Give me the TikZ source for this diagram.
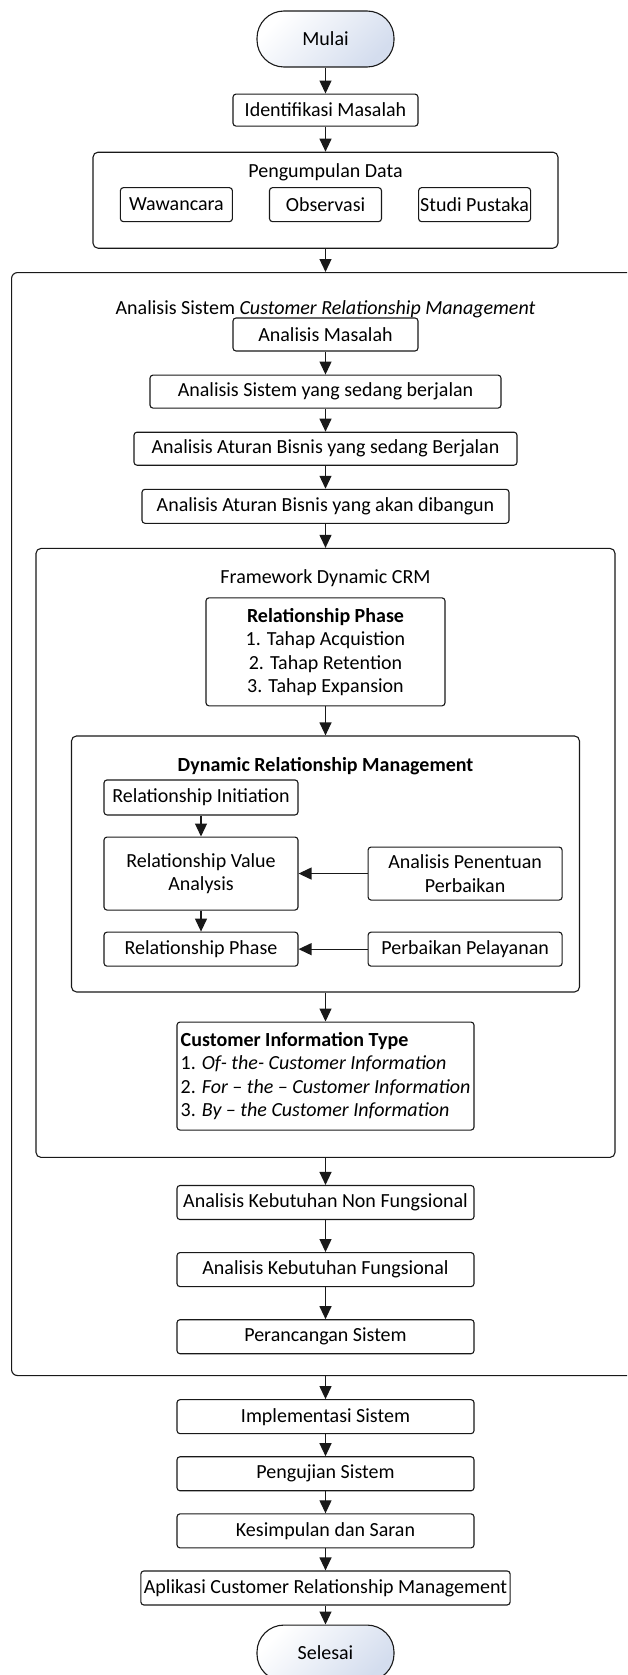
\documentclass[tikz,border=0pt]{standalone}
\usepackage{fontspec}
\setmainfont{Carlito}
\usepackage{tikz}
\usetikzlibrary{arrows.meta, positioning}
\definecolor{termblue}{RGB}{212,221,238}
\definecolor{linegray}{RGB}{25,25,25}

\begin{document}
\begin{tikzpicture}[
    x=1pt, y=-1pt,
    node distance=24pt and 36pt,
    every node/.style={font=\fontsize{20}{23.5}\selectfont},
    term/.style={rectangle, rounded corners=27pt, draw=linegray, line width=1.1pt, top color=white, bottom color=termblue, shading angle=45, minimum width=137pt, minimum height=56pt},
    box/.style={rectangle, rounded corners=3pt, draw=linegray, line width=1.1pt, fill=white, align=center, minimum height=33pt, inner sep=3pt},
    group/.style={rectangle, rounded corners=5pt, draw=linegray, line width=1.1pt},
    grouptitle/.style={inner sep=0pt, align=center},
    arrow/.style={-{Triangle[length=13pt, width=12pt]}, line width=1.2pt, draw=linegray}
]
\useasboundingbox (0,0) rectangle (627,1675);
\clip (0,0) rectangle (627,1675);

% --- start and data collection ---
\node[term] (mulai) at (325.5,39) {Mulai};
\node[box, minimum width=185pt, minimum height=32pt, below=26pt of mulai] (identifikasi) {Identifikasi Masalah};
\node[group, minimum width=465pt, minimum height=96pt, below=25pt of identifikasi] (kumpul) {};
\node[grouptitle, yshift=-21pt] (kumpulT) at (kumpul.north) {Pengumpulan Data};
\node[box, inner xsep=0pt, minimum width=112pt, minimum height=34pt, yshift=-53pt] (observasi) at (kumpul.north) {Observasi};
\node[box, inner xsep=0pt, minimum width=112pt, minimum height=34pt, left=of observasi] (wawancara) {Wawancara};
\node[box, inner xsep=0pt, minimum width=112pt, minimum height=34pt, right=of observasi] (pustaka) {Studi Pustaka};

% --- analisis sistem CRM (outer envelope) ---
\node[group, rounded corners=6pt, minimum width=640pt, minimum height=1103pt, anchor=north west] (analisis) at (11,272) {};
\node[grouptitle, yshift=-37pt] (analisisT) at (mulai |- analisis.north) {Analisis Sistem \textit{Customer Relationship Management}};
\node[box, minimum width=185pt, yshift=-62.5pt] (amasalah) at (mulai |- analisis.north) {Analisis Masalah};
\node[box, minimum width=351pt, below=23pt of amasalah] (asistem) {Analisis Sistem yang sedang berjalan};
\node[box, minimum width=383pt, below=23pt of asistem] (aturan1) {Analisis Aturan Bisnis yang sedang Berjalan};
\node[box, minimum width=367pt, minimum height=34pt, below=23pt of aturan1] (aturan2) {Analisis Aturan Bisnis yang akan dibangun};

% --- framework dynamic CRM ---
\node[group, minimum width=579pt, minimum height=609pt, below=24pt of aturan2] (framework) {};
\node[grouptitle, yshift=-30pt] (frameworkT) at (framework.north) {Framework Dynamic CRM};
\node[box, minimum width=239pt, minimum height=108pt, yshift=-104pt] (rphase) at (framework.north)
    {\textbf{Relationship Phase}\\1. Tahap Acquistion\\2. Tahap Retention\\3. Tahap Expansion};

\node[group, minimum width=508pt, minimum height=256pt, below=29pt of rphase] (drm) {};
\node[grouptitle, yshift=-31pt] (drmT) at (drm.north) {\textbf{Dynamic Relationship Management}};
\node[box, minimum width=194pt, minimum height=35pt, anchor=north west] (rinit) at ([xshift=32.5pt, yshift=-44pt]drm.north west) {Relationship Initiation};
\node[box, minimum width=194pt, minimum height=73pt, below=21pt of rinit] (rvalue) {Relationship Value\\Analysis};
\node[box, minimum width=194pt, minimum height=34pt, below=21pt of rvalue] (rphase2) {Relationship Phase};
\node[box, minimum width=194pt, minimum height=53pt, right=69pt of rvalue] (penentuan) {Analisis Penentuan\\Perbaikan};
\node[box, minimum width=194pt, minimum height=34pt, right=69pt of rphase2] (pelayanan) {Perbaikan Pelayanan};

\node[box, minimum width=297pt, minimum height=108pt, align=left, below=29pt of drm] (citype)
    {\textbf{Customer Information Type}\\1. \textit{Of- the- Customer Information}\\2. \textit{For – the – Customer Information}\\3. \textit{By – the Customer Information}};

% --- kebutuhan & perancangan ---
\node[box, minimum width=297pt, minimum height=34pt, below=27pt of framework] (knon) {Analisis Kebutuhan Non Fungsional};
\node[box, minimum width=297pt, minimum height=34pt, below=32pt of knon] (kfungsi) {Analisis Kebutuhan Fungsional};
\node[box, minimum width=297pt, minimum height=34pt, below=32pt of kfungsi] (rancang) {Perancangan Sistem};

% --- after analysis ---
\node[box, minimum width=297pt, minimum height=34pt, anchor=north, yshift=-23pt] (implementasi) at (mulai |- analisis.south) {Implementasi Sistem};
\node[box, minimum width=297pt, minimum height=34pt, below=22pt of implementasi] (pengujian) {Pengujian Sistem};
\node[box, minimum width=297pt, minimum height=34pt, below=22pt of pengujian] (kesimpulan) {Kesimpulan dan Saran};
\node[box, minimum width=369pt, minimum height=34pt, below=22pt of kesimpulan] (aplikasi) {Aplikasi Customer Relationship Management};
\node[term, below=19pt of aplikasi] (selesai) {Selesai};

% --- connectors ---
\draw[arrow] (mulai) -- (identifikasi);
\draw[arrow] (identifikasi) -- (kumpul);
\draw[arrow] (kumpul.south) -- (kumpul.south |- analisis.north);
\draw[arrow] (amasalah) -- (asistem);
\draw[arrow] (asistem) -- (aturan1);
\draw[arrow] (aturan1) -- (aturan2);
\draw[arrow] (aturan2) -- (framework);
\draw[arrow] (rphase) -- (drm);
\draw[arrow] (rinit) -- (rvalue);
\draw[arrow] (rvalue) -- (rphase2);
\draw[arrow] (penentuan) -- (rvalue);
\draw[arrow] (pelayanan) -- (rphase2);
\draw[arrow] (drm) -- (citype);
\draw[arrow] (framework) -- (knon);
\draw[arrow] (knon) -- (kfungsi);
\draw[arrow] (kfungsi) -- (rancang);
\draw[arrow] (implementasi.north |- analisis.south) -- (implementasi);
\draw[arrow] (implementasi) -- (pengujian);
\draw[arrow] (pengujian) -- (kesimpulan);
\draw[arrow] (kesimpulan) -- (aplikasi);
\draw[arrow] (aplikasi) -- (selesai);
\end{tikzpicture}
\end{document}
